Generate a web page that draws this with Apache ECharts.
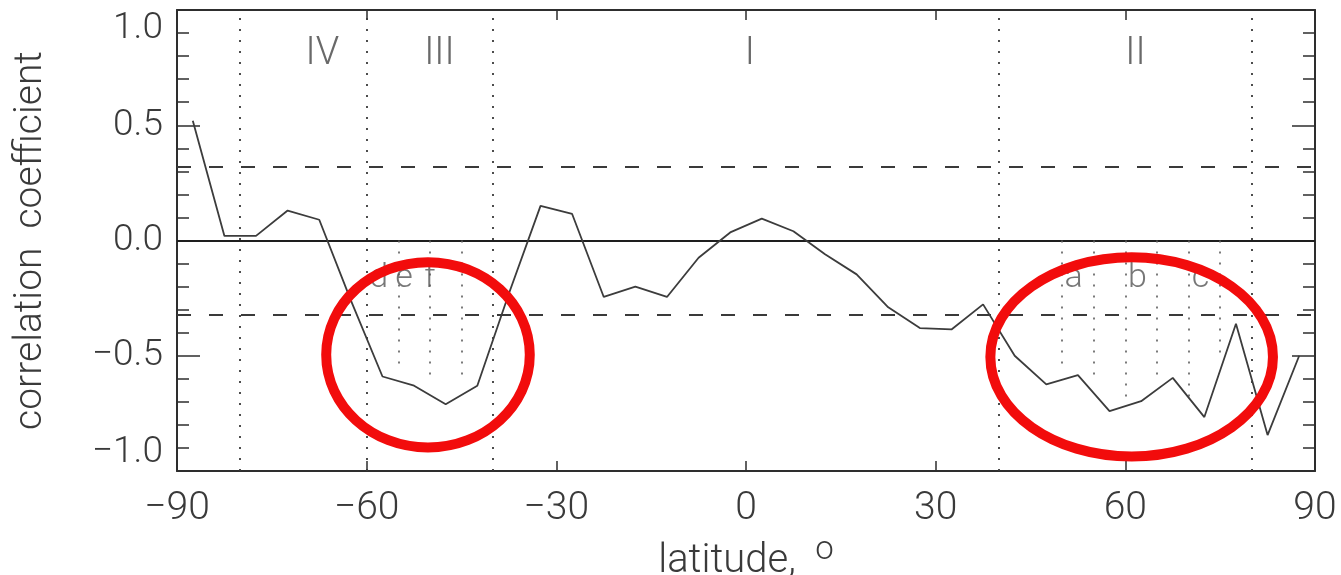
<!DOCTYPE html>
<html>
<head>
<meta charset="utf-8">
<script src="https://cdn.jsdelivr.net/npm/echarts@6/dist/echarts.min.js"></script>
<style>
  html, body { margin: 0; padding: 0; background: #ffffff; }
  #chart { width: 1341px; height: 575px; }
</style>
</head>
<body>
<div id="chart"></div>
<script>
// Correlation coefficient in 5-degree latitude bins
const latitudes = [-87.5, -82.5, -77.5, -72.5, -67.5, -62.5, -57.5, -52.5, -47.5, -42.5,
                   -37.5, -32.5, -27.5, -22.5, -17.5, -12.5, -7.5, -2.5, 2.5, 7.5,
                   12.5, 17.5, 22.5, 27.5, 32.5, 37.5, 42.5, 47.5, 52.5, 57.5,
                   62.5, 67.5, 72.5, 77.5, 82.5, 87.5];
const correlation = [0.52, 0.02, 0.02, 0.13, 0.09, -0.26, -0.59, -0.63, -0.71, -0.63,
                     -0.23, 0.15, 0.115, -0.245, -0.20, -0.245, -0.075, 0.035, 0.095, 0.04,
                     -0.06, -0.147, -0.29, -0.38, -0.386, -0.277, -0.50, -0.624, -0.584, -0.74,
                     -0.697, -0.596, -0.766, -0.361, -0.844, -0.50];

// axis ranges
const latRange = [-90, 90];
const latStep = 30;
const corrRange = [-1, 1];
const corrStep = 0.5;

// significance level (dashed lines)
const significance = 0.32;

// zone boundaries (full-height dotted lines)
const zoneBounds = [-80, -60, -40, 40, 80];
// sub-zone boundaries (dotted lines from zero down to the curve)
const subBounds = [-55, -50, -45, 50, 55, 60, 65, 70, 75];
const subBoundEnds = [-0.57, -0.62, -0.60, -0.57, -0.62, -0.70, -0.60, -0.70, -0.50];

// zone names
const zoneNames = ['IV', 'III', 'I', 'II'];
const zoneNameLat = [-67, -48.5, 0.6, 61.6];
const zoneNameCorr = 0.805;
// sub-zone names
const subNames = ['d', 'e', 'f', 'a', 'b', 'c'];
const subNameLat = [-58.1, -54.1, -50, 51.8, 61.9, 71.9];
const subNameCorr = -0.165;

// highlighted regions: centre latitude, centre correlation, half-width (deg), half-height
const highlightLat = [-50.3, 61.0];
const highlightCorr = [-0.496, -0.505];
const highlightHalfWidth = [16.1, 22.35];
const highlightHalfHeight = [0.402, 0.432];

const FONT = 'Roboto, "DejaVu Sans", sans-serif';
const INK = '#3a3a3a';
const minus = s => String(s).replace('-', '\u2212');

const chart = echarts.init(document.getElementById('chart'), null, { renderer: 'canvas' });

const frameLine = { show: true, lineStyle: { color: '#2e2e2e', width: 2 } };

function latAxis(position, showLabels) {
  return {
    type: 'value', position: position,
    min: latRange[0], max: latRange[1], interval: latStep,
    axisLine: { ...frameLine, onZero: false },
    axisTick: { show: true, inside: true, length: 10, lineStyle: { color: '#2e2e2e', width: 1.5 } },
    axisLabel: { show: showLabels, margin: 19, fontFamily: FONT, fontSize: 39, fontWeight: 300,
                 color: INK, formatter: v => minus(v) },
    splitLine: { show: false }
  };
}
function corrAxis(position, showLabels) {
  return {
    type: 'value', position: position,
    min: corrRange[0], max: corrRange[1], interval: corrStep,
    axisLine: { ...frameLine, onZero: false },
    axisTick: { show: true, inside: true, length: 23, lineStyle: { color: '#2e2e2e', width: 1.5 } },
    minorTick: { show: true, splitNumber: 5, length: 12, lineStyle: { color: '#2e2e2e', width: 1.5 } },
    axisLabel: { show: showLabels, margin: 14, fontFamily: FONT, fontSize: 37, fontWeight: 300,
                 color: INK, formatter: v => minus(v.toFixed(1)),
                 verticalAlignMaxLabel: 'top', verticalAlignMinLabel: 'bottom' },
    splitLine: { show: false }
  };
}

const xBottom = latAxis('bottom', true);
xBottom.name = 'latitude,  {deg|o}';
xBottom.nameLocation = 'middle';
xBottom.nameGap = 72;
xBottom.nameTextStyle = {
  fontFamily: FONT, fontSize: 40, fontWeight: 300, color: INK, verticalAlign: 'bottom',
  rich: { deg: { fontFamily: FONT, fontSize: 33, fontWeight: 300, color: INK,
                 verticalAlign: 'bottom', padding: [0, 0, 23, 0] } }
};
const xTop = latAxis('top', false);

const yLeft = corrAxis('left', true);
yLeft.name = 'correlation  coefficient';
yLeft.nameLocation = 'middle';
yLeft.nameGap = 126;
yLeft.nameTextStyle = { fontFamily: FONT, fontSize: 39, fontWeight: 300, color: INK };
const yRight = corrAxis('right', false);

// reference lines
const markData = [];
markData.push({ yAxis: 0, lineStyle: { type: 'solid', color: '#1e1e1e', width: 1.8 } });
markData.push({ yAxis: significance, lineStyle: { type: [14, 18], color: '#3a3a3a', width: 1.8 } });
markData.push({ yAxis: -significance, lineStyle: { type: [14, 18], color: '#3a3a3a', width: 1.8 } });
zoneBounds.forEach(x => markData.push({ xAxis: x, lineStyle: { type: [2, 9], color: '#3a3a3a', width: 1.8 } }));
subBounds.forEach((x, i) => markData.push([
  { coord: [x, 0], lineStyle: { type: [2, 9], color: '#5a5a5a', width: 1.6 } },
  { coord: [x, subBoundEnds[i]] }
]));

const zoneLabelData = zoneNames.map((n, i) => ({ name: n, value: [zoneNameLat[i], zoneNameCorr] }));
const subLabelData = subNames.map((n, i) => ({ name: n, value: [subNameLat[i], subNameCorr] }));
const highlightData = highlightLat.map((x, i) =>
  [x, highlightCorr[i], highlightHalfWidth[i], highlightHalfHeight[i]]);

chart.setOption({
  animation: false,
  backgroundColor: '#ffffff',
  grid: { left: 177, right: 26, top: 10, bottom: 104, containLabel: false, outerBoundsMode: 'none' },
  xAxis: [xBottom, xTop],
  yAxis: [yLeft, yRight],
  series: [
    {
      type: 'line', xAxisIndex: 0, yAxisIndex: 0,
      data: latitudes.map((x, i) => [x, correlation[i]]),
      symbol: 'none', smooth: false,
      lineStyle: { color: '#3c3c3c', width: 1.8 },
      z: 3,
      markLine: { silent: true, symbol: 'none', label: { show: false }, animation: false, data: markData, z: 2 }
    },
    {
      type: 'scatter', xAxisIndex: 0, yAxisIndex: 0,
      data: zoneLabelData, symbolSize: 0, silent: true,
      label: { show: true, position: 'inside', formatter: p => p.name,
               fontFamily: FONT, fontSize: 38, fontWeight: 300, color: '#444444' }
    },
    {
      type: 'scatter', xAxisIndex: 0, yAxisIndex: 0,
      data: subLabelData, symbolSize: 0, silent: true,
      label: { show: true, position: 'inside', formatter: p => p.name,
               fontFamily: FONT, fontSize: 34, fontWeight: 300, color: '#555555' }
    },
    {
      type: 'custom', xAxisIndex: 0, yAxisIndex: 0,
      data: highlightData, silent: true, clip: false, z: 10,
      renderItem: (params, api) => {
        const c = api.coord([api.value(0), api.value(1)]);
        const s = api.size([api.value(2), api.value(3)]);
        return {
          type: 'ellipse',
          shape: { cx: c[0], cy: c[1], rx: s[0], ry: s[1] },
          style: { fill: 'none', stroke: '#f20c0c', lineWidth: 10 }
        };
      }
    }
  ]
});
</script>
</body>
</html>
